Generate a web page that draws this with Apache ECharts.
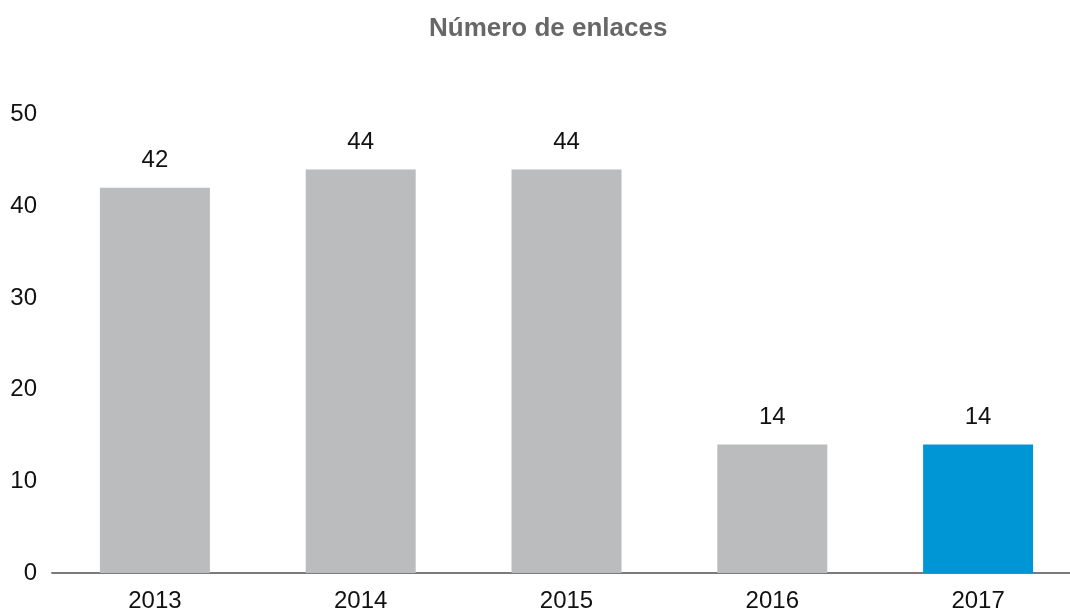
<!DOCTYPE html>
<html>
<head>
<meta charset="utf-8">
<script src="https://cdn.jsdelivr.net/npm/echarts@6/dist/echarts.min.js"></script>
<style>html,body{margin:0;padding:0;background:#fff;}#c{width:1070px;height:610px;}</style>
</head>
<body>
<div id="c"></div>
<script>
const years = ['2013', '2014', '2015', '2016', '2017'];
const enlaces = [42, 44, 44, 14, 14];
const barColors = ['#bbbcbe', '#bbbcbe', '#bbbcbe', '#bbbcbe', '#0096d6'];
const yTicks = [0, 10, 20, 30, 40, 50];

const chart = echarts.init(document.getElementById('c'), null, {renderer: 'canvas'});
chart.setOption({
  animation: false,
  backgroundColor: '#ffffff',
  textStyle: {fontFamily: 'Liberation Sans, Arial, sans-serif'},
  title: {
    text: 'Número de enlaces',
    left: 424,
    top: 11,
    textStyle: {fontSize: 26, fontWeight: 'bold', color: '#676767', fontFamily: 'Liberation Sans, Arial, sans-serif'}
  },
  grid: {left: 52, width: 1029, top: 114.5, bottom: 37, containLabel: false, outerBoundsMode: 'none'},
  xAxis: {
    type: 'category',
    data: years,
    axisLine: {show: true, lineStyle: {color: '#7a7a7a', width: 2}},
    axisTick: {show: false},
    axisLabel: {fontSize: 24, color: '#111', margin: 16}
  },
  yAxis: {
    type: 'value',
    min: yTicks[0],
    max: yTicks[yTicks.length - 1],
    interval: 10,
    splitLine: {show: false},
    axisLine: {show: false},
    axisTick: {show: false},
    axisLabel: {fontSize: 24, color: '#111', margin: 15, align: 'right'}
  },
  series: [{
    type: 'bar',
    barWidth: 110,
    data: enlaces.map((v, i) => ({value: v, itemStyle: {color: barColors[i]}})),
    label: {show: true, position: 'top', distance: 15, fontSize: 24, color: '#111'}
  }]
});
</script>
</body>
</html>
